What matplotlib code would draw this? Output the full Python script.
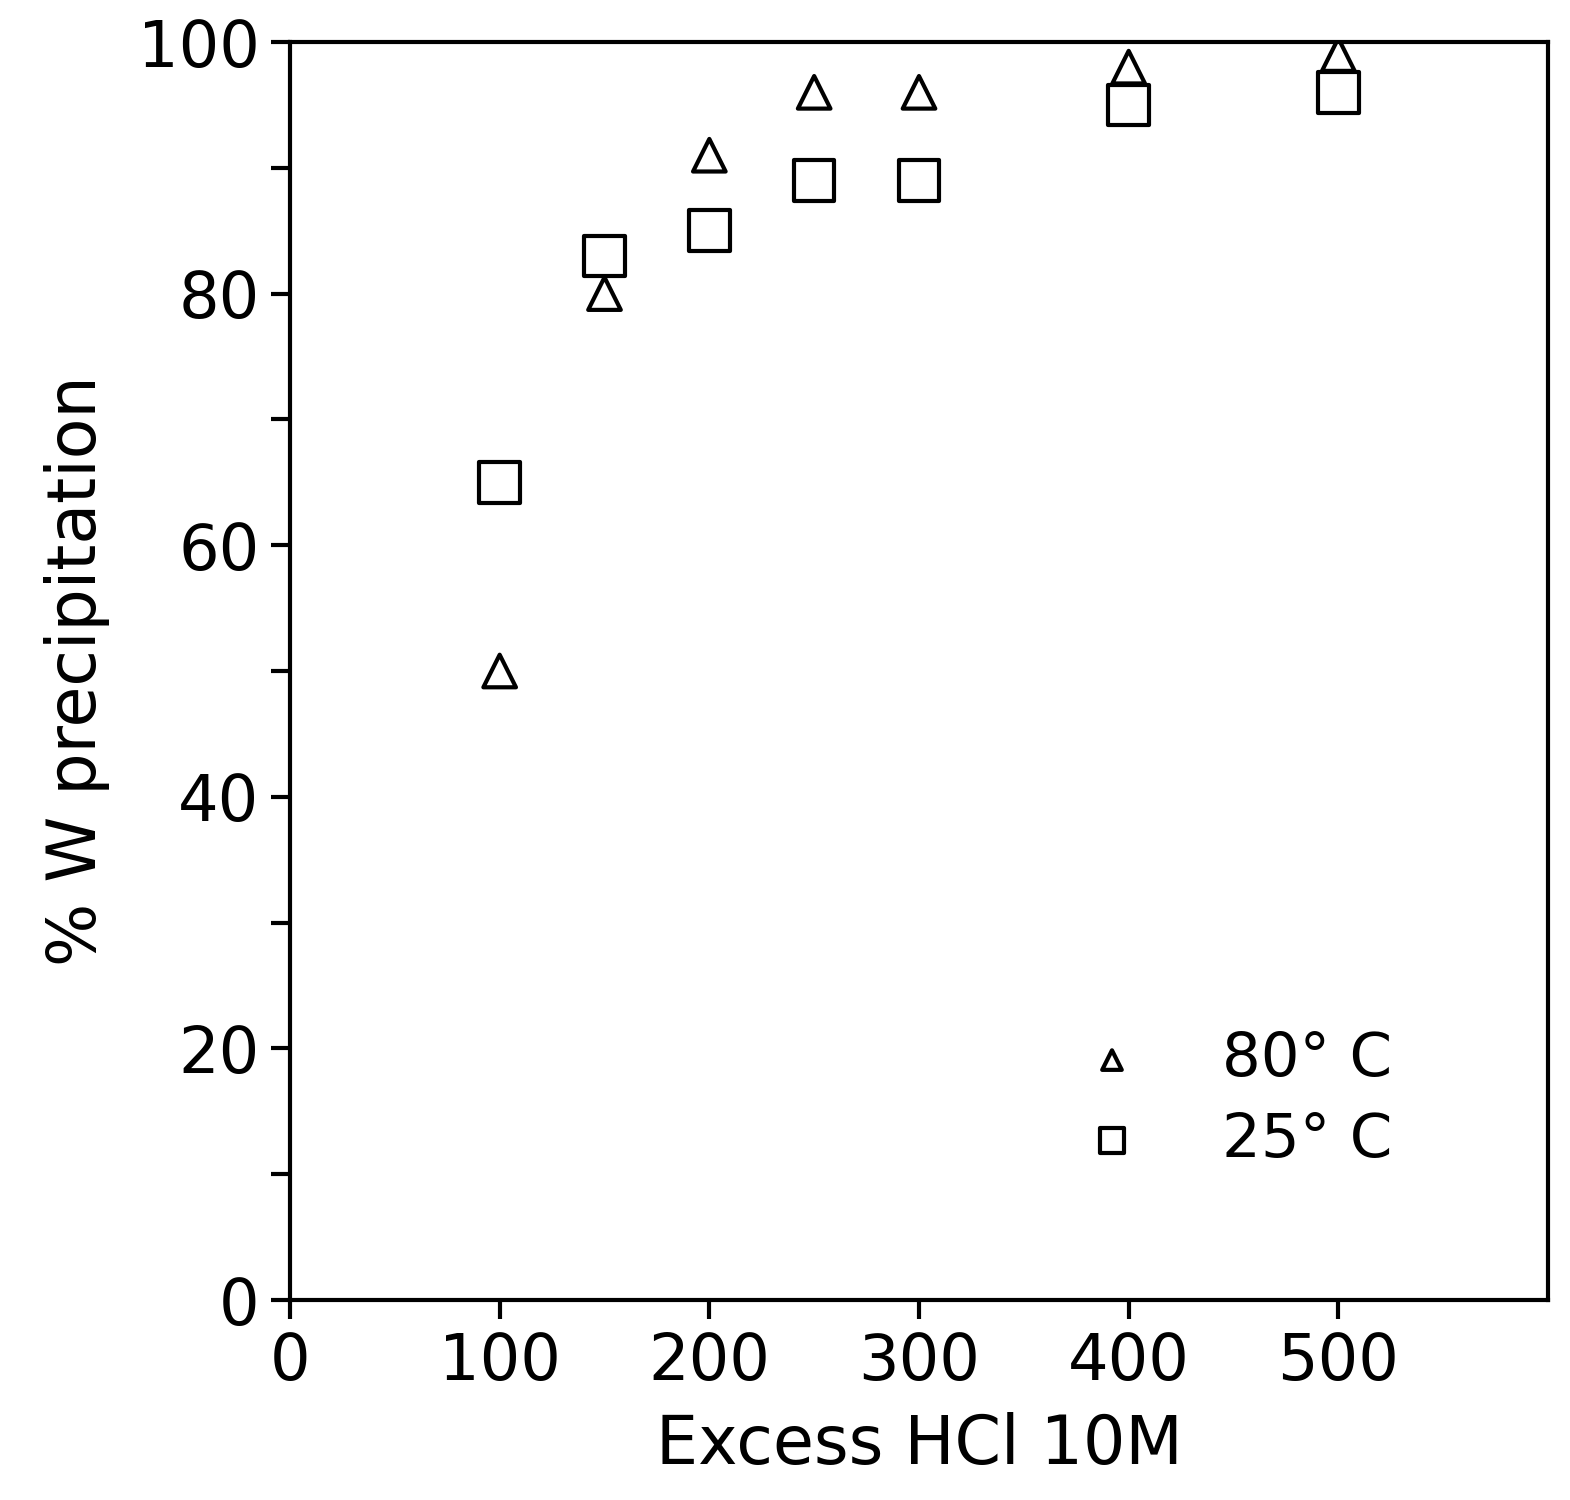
import matplotlib.pyplot as plt

excess_hcl = [100, 150, 200, 250, 300, 400, 500]
precip_80c = [50, 80, 91, 96, 96, 98, 99]
precip_25c = [65, 83, 85, 89, 89, 95, 96]

fig = plt.figure(figsize=(15.7, 15), dpi=100)
ax = fig.add_axes([290 / 1570, 200 / 1500, 1258 / 1570, 1258 / 1500])

ax.scatter(excess_hcl, precip_80c, marker='^', s=550, facecolors='none',
           edgecolors='black', linewidths=3, label='80° C')
ax.scatter(excess_hcl, precip_25c, marker='s', s=850, facecolors='none',
           edgecolors='black', linewidths=3, label='25° C')

ax.set_xlim(0, 600)
ax.set_ylim(0, 100)
ax.set_xticks([0, 100, 200, 300, 400, 500])
ax.set_yticks([0, 20, 40, 60, 80, 100])
ax.set_yticks(range(10, 100, 20), minor=True)
ax.tick_params(axis='both', which='major', direction='out', length=14, width=3,
               labelsize=46, pad=8)
ax.tick_params(axis='y', which='minor', direction='out', length=14, width=3)
for s in ax.spines.values():
    s.set_linewidth(3)

ax.set_xlabel('Excess HCl 10M', fontsize=48, labelpad=14)
ax.set_ylabel('% W precipitation', fontsize=48, labelpad=20)

ax.legend(loc='lower right', bbox_to_anchor=(0.92, 0.06), frameon=False,
          fontsize=44, markerscale=0.6, handletextpad=0.8, labelspacing=0.35)

fig.savefig('out.png', dpi=100)
